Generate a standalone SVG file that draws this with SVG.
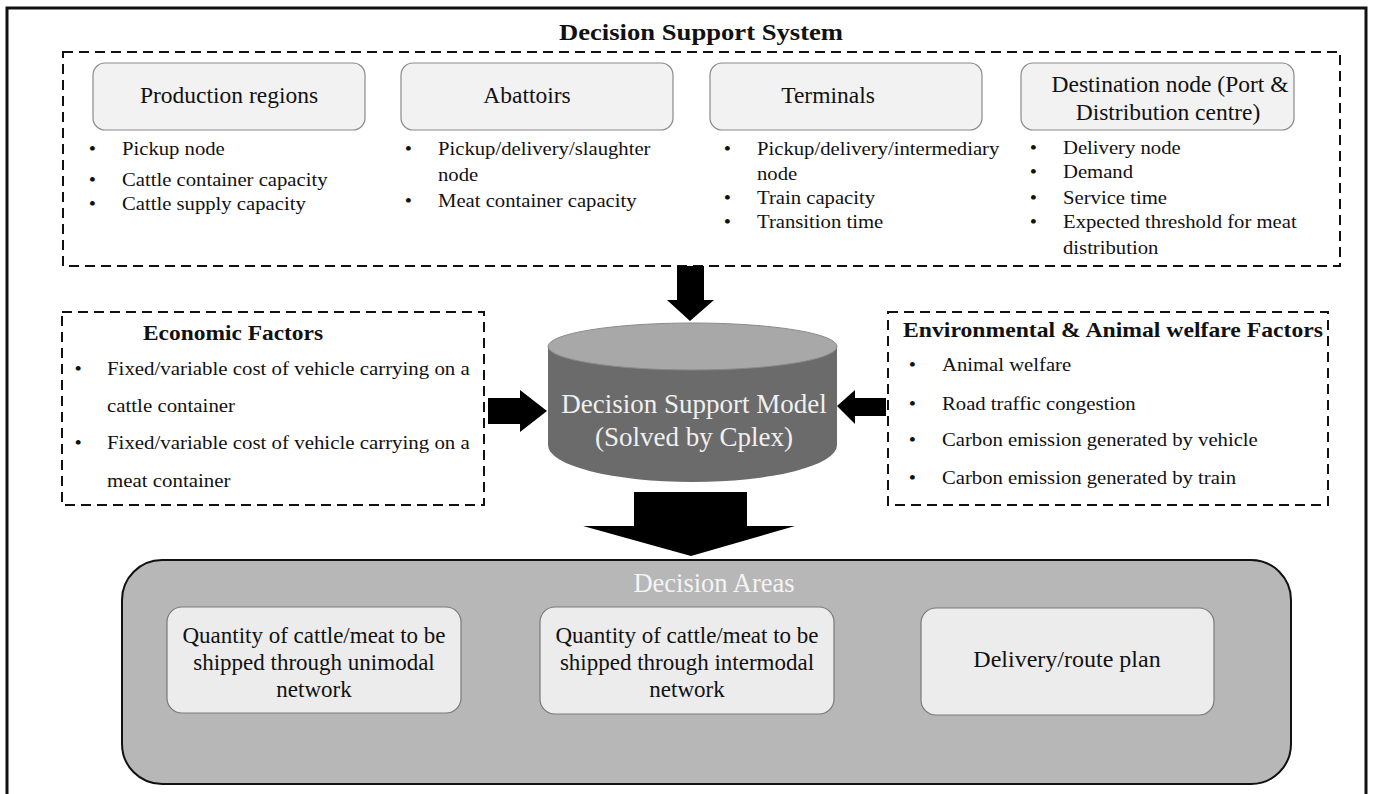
<svg xmlns="http://www.w3.org/2000/svg" width="1373" height="794" viewBox="0 0 1373 794">
<defs>
<style>
text{font-family:"Liberation Serif","Times New Roman",serif;fill:#111}
.t{font-size:24px;font-weight:bold}
.h{font-size:22px;font-weight:bold}
.lbl{font-size:23.5px;text-anchor:middle}
.q{font-size:23px;text-anchor:middle}
.b text{font-size:18px}
.dash{fill:none;stroke:#111;stroke-width:2;stroke-dasharray:10,6}
.node{fill:#f2f2f2;stroke:#8a8a8a;stroke-width:1.2}
.area{fill:#ececec;stroke:#7a7a7a;stroke-width:1.2}
.arr{fill:#000}
.m{font-size:27px;fill:#f0f0f0;text-anchor:middle}
</style>
</defs>
<rect width="1373" height="794" fill="#fff"/>
<rect x="7" y="8" width="1359" height="800" fill="none" stroke="#111" stroke-width="3"/>
<text class="t" x="559" y="40" textLength="284" lengthAdjust="spacingAndGlyphs">Decision Support System</text>

<g id="dss">
<rect class="dash" x="63" y="52" width="1277" height="214"/>
</g>

<g id="production">
<rect class="node" x="93" y="63" width="272" height="67" rx="12"/>
<text class="lbl" x="229" y="103">Production regions</text>
<g class="b" transform="translate(122,0) scale(1.15,1)">
<text x="-29" y="155">•</text><text x="0" y="155">Pickup node</text>
<text x="-29" y="186">•</text><text x="0" y="186">Cattle container capacity</text>
<text x="-29" y="210">•</text><text x="0" y="210">Cattle supply capacity</text>
</g>
</g>

<g id="abattoirs">
<rect class="node" x="401" y="63" width="272" height="67" rx="12"/>
<text class="lbl" x="527" y="103">Abattoirs</text>
<g class="b" transform="translate(438,0) scale(1.15,1)">
<text x="-29" y="155">•</text><text x="0" y="155">Pickup/delivery/slaughter</text>
<text x="0" y="181">node</text>
<text x="-29" y="207">•</text><text x="0" y="207">Meat container capacity</text>
</g>
</g>

<g id="terminals">
<rect class="node" x="710" y="63" width="272" height="67" rx="12"/>
<text class="lbl" x="828" y="103">Terminals</text>
<g class="b" transform="translate(757,0) scale(1.15,1)">
<text x="-29" y="155">•</text><text x="0" y="155">Pickup/delivery/intermediary</text>
<text x="0" y="180">node</text>
<text x="-29" y="204">•</text><text x="0" y="204">Train capacity</text>
<text x="-29" y="228">•</text><text x="0" y="228">Transition time</text>
</g>
</g>

<g id="destination">
<rect class="node" x="1021" y="63" width="273" height="67" rx="12"/>
<text class="lbl" x="1170" y="92">Destination node (Port &amp;</text>
<text class="lbl" x="1168" y="120">Distribution centre)</text>
<g class="b" transform="translate(1063,0) scale(1.15,1)">
<text x="-29" y="154">•</text><text x="0" y="154">Delivery  node</text>
<text x="-29" y="178">•</text><text x="0" y="178">Demand</text>
<text x="-29" y="204">•</text><text x="0" y="204">Service time</text>
<text x="-29" y="228">•</text><text x="0" y="228">Expected threshold for meat</text>
<text x="0" y="254">distribution</text>
</g>
</g>

<g id="economic">
<rect class="dash" x="62" y="312" width="422" height="193"/>
<text class="h" x="143" y="340" textLength="180" lengthAdjust="spacingAndGlyphs">Economic Factors</text>
<g class="b" transform="translate(107,0) scale(1.16,1)">
<text x="-28" y="375">•</text><text x="0" y="375">Fixed/variable  cost of vehicle  carrying  on a</text>
<text x="0" y="412">cattle container</text>
<text x="-28" y="449">•</text><text x="0" y="449">Fixed/variable  cost of vehicle  carrying  on a</text>
<text x="0" y="487">meat  container</text>
</g>
</g>

<g id="environmental">
<rect class="dash" x="888" y="312" width="440" height="193"/>
<text class="h" x="903" y="337" textLength="420" lengthAdjust="spacingAndGlyphs">Environmental  &amp; Animal  welfare Factors</text>
<g class="b" transform="translate(942,0) scale(1.15,1)">
<text x="-29" y="371">•</text><text x="0" y="371">Animal  welfare</text>
<text x="-29" y="410">•</text><text x="0" y="410">Road traffic  congestion</text>
<text x="-29" y="446">•</text><text x="0" y="446">Carbon emission  generated  by vehicle</text>
<text x="-29" y="484">•</text><text x="0" y="484">Carbon emission  generated  by train</text>
</g>
</g>

<g id="model">
<path d="M548,346 L548,445 A144.5,37 0 0 0 837,445 L837,346 Z" fill="#6b6b6b"/>
<ellipse cx="692.5" cy="346.5" rx="144.5" ry="23.5" fill="#a8a8a8" stroke="#8a8a8a" stroke-width="1"/>
<text class="m" x="694" y="413">Decision Support Model</text>
<text class="m" x="694" y="446">(Solved by Cplex)</text>
</g>

<g id="decision-areas">
<rect x="122" y="560" width="1169" height="224" rx="40" fill="#b7b7b7" stroke="#111" stroke-width="2"/>
<text x="714" y="592" text-anchor="middle" style="font-size:26.5px;fill:#f4f4f4">Decision Areas</text>
</g>

<g id="unimodal">
<rect class="area" x="167" y="607" width="294" height="106" rx="15"/>
<text class="q" x="314" y="643">Quantity  of cattle/meat  to be</text>
<text class="q" x="314" y="670">shipped  through  unimodal</text>
<text class="q" x="314" y="697">network</text>
</g>

<g id="intermodal">
<rect class="area" x="540" y="607" width="294" height="107" rx="15"/>
<text class="q" x="687" y="643">Quantity  of cattle/meat  to be</text>
<text class="q" x="687" y="670">shipped  through  intermodal</text>
<text class="q" x="687" y="697">network</text>
</g>

<g id="route">
<rect class="area" x="921" y="608" width="293" height="107" rx="15"/>
<text class="q" x="1067" y="667" style="font-size:24px">Delivery/route  plan</text>
</g>

<g id="connectors">
<polygon class="arr" points="677,266 704,266 704,300 714,300 690,321 667,300 677,300"/>
<polygon class="arr" points="488,398 520,398 520,390 547,411 520,432 520,424 488,424"/>
<polygon class="arr" points="886,398 855,398 855,390 837,406 855,424 855,416 886,416"/>
<polygon class="arr" points="634,492 747,492 747,526 795,526 691,556 583,526 634,526"/>
</g>
</svg>
